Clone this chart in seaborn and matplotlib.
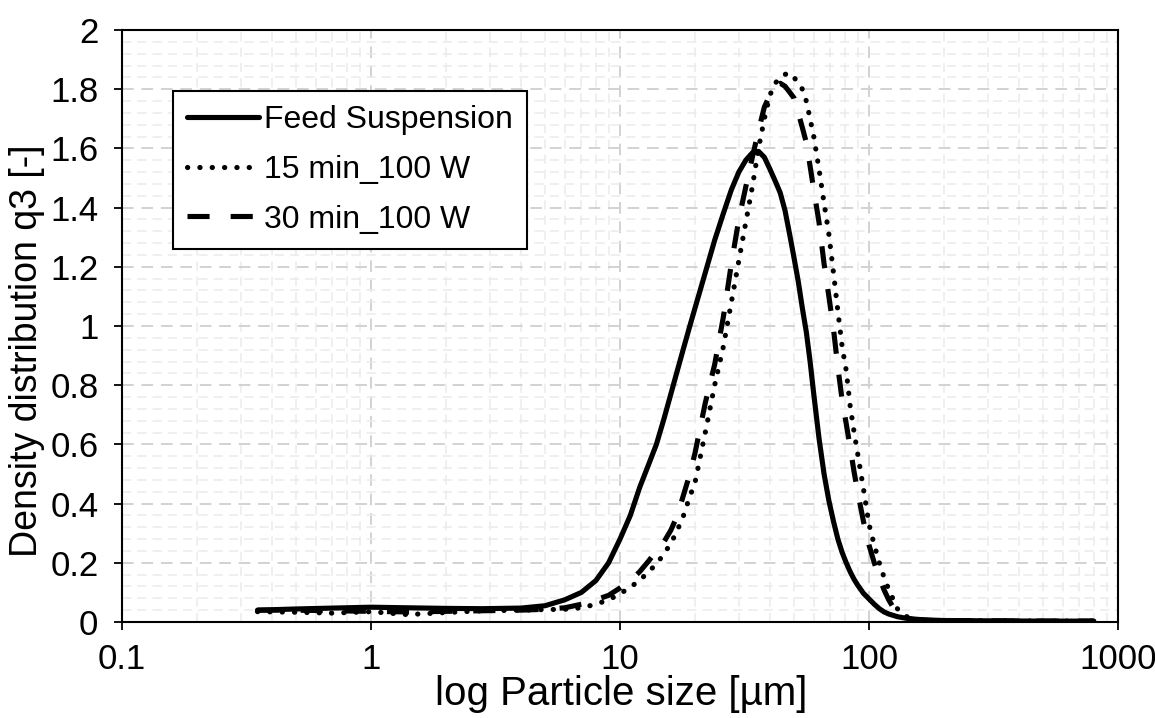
import numpy as np
import pandas as pd
import matplotlib
matplotlib.use("Agg")
import matplotlib.pyplot as plt
import seaborn as sns
from matplotlib.ticker import LogLocator, MultipleLocator, FuncFormatter, NullFormatter
from matplotlib.lines import Line2D

# particle size grid [µm]
size_um = [0.35, 0.5, 0.7, 1.0, 1.4, 2.0, 2.8, 4.0, 5.0, 6.0, 7.0, 8.0, 9.0,
           10, 11, 12, 13, 14, 15, 16, 17, 18, 19, 20, 22, 24, 26, 28, 30, 32,
           34, 36, 38, 40, 42, 44, 46, 48, 50, 52, 54, 56, 58, 60, 63, 66, 69,
           72, 75, 78, 81, 84, 87, 90, 95, 100, 105, 110, 115, 120, 130, 140,
           150, 170, 200, 300, 500, 800]

q3_feed = [0.040, 0.044, 0.047, 0.050, 0.048, 0.046, 0.045, 0.047, 0.055, 0.075,
           0.10, 0.14, 0.20, 0.28, 0.36, 0.455, 0.53, 0.60, 0.685, 0.77, 0.85,
           0.925, 0.995, 1.06, 1.18, 1.29, 1.38, 1.46, 1.52, 1.56, 1.585, 1.59,
           1.57, 1.53, 1.49, 1.45, 1.39, 1.31, 1.23, 1.15, 1.06, 0.98, 0.88,
           0.77, 0.62, 0.50, 0.41, 0.34, 0.28, 0.235, 0.20, 0.17, 0.145, 0.125,
           0.097, 0.078, 0.06, 0.045, 0.034, 0.027, 0.018, 0.013, 0.010, 0.007,
           0.005, 0.004, 0.003, 0.003]

q3_15min = [0.035, 0.033, 0.030, 0.035, 0.025, 0.032, 0.038, 0.040, 0.042, 0.043,
            0.048, 0.060, 0.075, 0.095, 0.118, 0.14, 0.17, 0.195, 0.23, 0.265,
            0.31, 0.36, 0.42, 0.47, 0.64, 0.80, 0.93, 1.08, 1.22, 1.35, 1.47,
            1.60, 1.70, 1.78, 1.82, 1.84, 1.85, 1.855, 1.84, 1.82, 1.80, 1.76,
            1.70, 1.64, 1.53, 1.415, 1.31, 1.18, 1.05, 0.93, 0.85, 0.73, 0.645,
            0.57, 0.45, 0.33, 0.26, 0.20, 0.15, 0.11, 0.045, 0.02, 0.010, 0.006,
            0.005, 0.004, 0.003, 0.003]

q3_30min = [0.040, 0.040, 0.038, 0.036, 0.034, 0.036, 0.038, 0.040, 0.043, 0.048,
            0.060, 0.075, 0.09, 0.115, 0.14, 0.17, 0.205, 0.24, 0.27, 0.31, 0.36,
            0.43, 0.495, 0.57, 0.74, 0.87, 1.03, 1.21, 1.36, 1.47, 1.57, 1.66,
            1.74, 1.78, 1.81, 1.82, 1.81, 1.79, 1.77, 1.72, 1.67, 1.62, 1.54,
            1.46, 1.35, 1.21, 1.10, 0.99, 0.86, 0.75, 0.67, 0.59, 0.51, 0.44,
            0.34, 0.26, 0.20, 0.15, 0.108, 0.075, 0.025, 0.015, 0.009, 0.006,
            0.005, 0.004, 0.003, 0.003]

series_labels = ["Feed Suspension", "15 min_100 W", "30 min_100 W"]
x_ticks = [0.1, 1, 10, 100, 1000]

sns.set_theme(style="white")
plt.rcParams["font.family"] = ["Liberation Sans", "DejaVu Sans"]

fig = plt.figure(figsize=(11.55, 7.18), dpi=100)
ax = fig.add_axes([122 / 1155, 1 - 622 / 718, (1118 - 122) / 1155, (622 - 30) / 718])

styles = [
    dict(linestyle="-", solid_capstyle="round"),
    dict(linestyle=(0, (0.05, 2.35)), dash_capstyle="round"),
    dict(linestyle=(0, (4.3, 4.1)), dash_capstyle="butt"),
]
lw = 3.7
for vals, lab, st in zip([q3_feed, q3_15min, q3_30min], series_labels, styles):
    df = pd.DataFrame({"size": size_um, "q3": vals})
    sns.lineplot(data=df, x="size", y="q3", ax=ax, color="black", linewidth=lw,
                 label=lab, legend=False, **st)

ax.set_xscale("log")
ax.set_xlim(0.1, 1000)
ax.set_ylim(0, 2)

ax.xaxis.set_major_locator(matplotlib.ticker.FixedLocator(x_ticks))
ax.xaxis.set_minor_locator(LogLocator(base=10, subs=np.arange(2, 10), numticks=20))
ax.xaxis.set_major_formatter(FuncFormatter(lambda v, p: "%g" % v))
ax.xaxis.set_minor_formatter(NullFormatter())
ax.yaxis.set_major_locator(MultipleLocator(0.2))
ax.yaxis.set_minor_locator(MultipleLocator(0.04))
ax.yaxis.set_major_formatter(FuncFormatter(lambda v, p: "%g" % round(v, 2)))

ax.grid(which="major", color="#d2d2d2", linestyle=(0, (6, 4)), linewidth=1.4)
ax.grid(which="minor", color="#ebebeb", linestyle=(0, (6, 4)), linewidth=1.1)
ax.set_axisbelow(True)

ax.tick_params(which="major", direction="out", length=6, width=1.3, color="black",
               labelsize=25, left=True, bottom=True, labelcolor="black")
ax.tick_params(axis="y", which="major", pad=11)
ax.tick_params(axis="x", which="major", pad=9)
ax.tick_params(which="minor", length=0)
for s in ax.spines.values():
    s.set_color("black")
    s.set_linewidth(1.5)

ax.set_xlabel("log Particle size [µm]", fontsize=29, color="black")
ax.set_ylabel("Density distribution q3 [-]", fontsize=27, color="black")
ax.xaxis.set_label_coords(0.5015, -0.0895)
ax.yaxis.set_label_coords(-0.0775, 0.458)

handles = [Line2D([], [], color="black", linewidth=lw, **st) for st in styles]
leg = ax.legend(handles, series_labels, loc="upper left",
                bbox_to_anchor=(0.051, 0.8975), fontsize=23, frameon=True,
                fancybox=False, framealpha=1, edgecolor="black",
                handlelength=2.25, handletextpad=0.15, borderpad=0.45,
                labelspacing=0.62, borderaxespad=0)
leg.get_frame().set_linewidth(1.5)
for t in leg.get_texts():
    t.set_color("black")

fig.savefig("out.png", dpi=100)
